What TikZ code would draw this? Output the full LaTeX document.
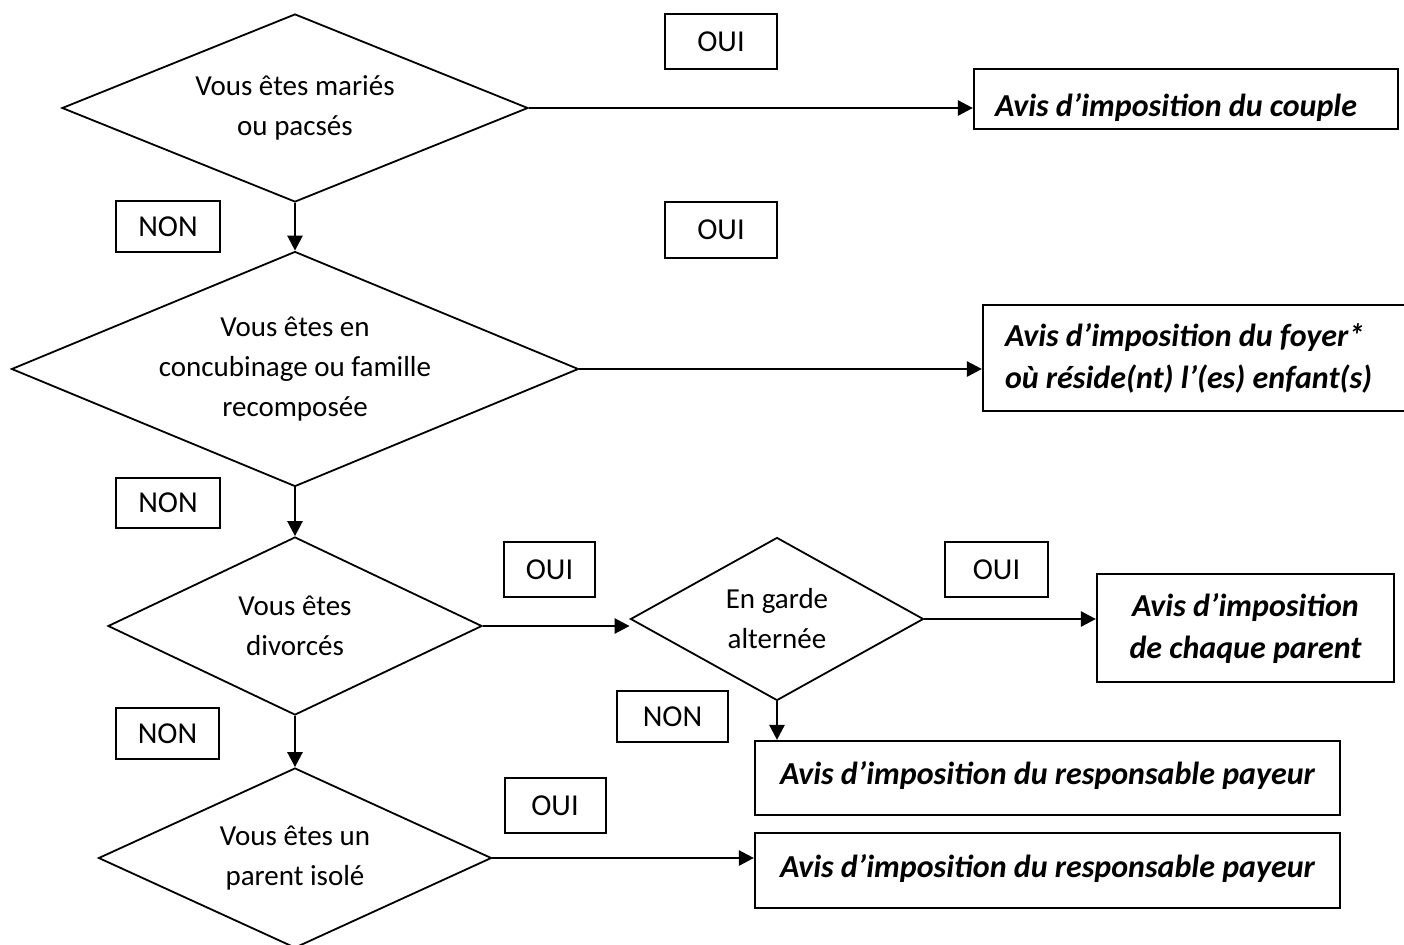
\documentclass[tikz,border=0pt]{standalone}
\usepackage{fontspec}
\setmainfont{Carlito}
\usetikzlibrary{arrows.meta,shapes.geometric}
\begin{document}
\begin{tikzpicture}[x=0.5pt,y=-0.5pt,
  every node/.style={font=\fontsize{14.5}{20}\selectfont},
  dia/.style={draw, line width=0.9pt, shape=diamond, inner sep=0pt, align=center},
  lbl/.style={draw, line width=1pt, inner sep=0pt, font=\fontsize{15.2}{20}\selectfont},
  res/.style={draw, line width=1.1pt, inner sep=0pt, align=center, font=\fontsize{16}{21}\selectfont\bfseries\itshape},
  arr/.style={line width=1.3pt, -{Triangle[length=7.5pt,width=7.5pt]}},
]
\useasboundingbox[fill=white] (0,0) rectangle (1404,944);

% decisions
\node[dia, shape aspect=2.48, minimum width=233pt, minimum height=94pt] (d1) at (295,108) {Vous êtes mariés\\ou pacsés};
\node[dia, shape aspect=2.41, minimum width=283.5pt, minimum height=117.5pt] (d2) at (295,369) {Vous êtes en\\concubinage ou famille\\recomposée};
\node[dia, shape aspect=2.1, minimum width=187pt, minimum height=89pt] (d3) at (295,626) {Vous êtes\\divorcés};
\node[dia, shape aspect=1.8, minimum width=146.5pt, minimum height=81.5pt] (d4) at (777,619) {En garde\\alternée};
\node[dia, shape aspect=2.18, minimum width=196.5pt, minimum height=90pt] (d5) at (295,858) {Vous êtes un\\parent isolé};

% OUI / NON labels
\node[lbl, minimum width=56pt, minimum height=27.5pt] (oui1) at (721,41.5) {OUI};
\node[lbl, minimum width=56pt, minimum height=28pt] (oui2) at (721,230) {OUI};
\node[lbl, minimum width=52pt, minimum height=25.5pt] (non1) at (168,226.5) {NON};
\node[lbl, minimum width=52pt, minimum height=25pt] (non2) at (168,503) {NON};
\node[lbl, minimum width=45.5pt, minimum height=27.5pt] (oui3) at (549.5,569.5) {OUI};
\node[lbl, minimum width=51.5pt, minimum height=27.5pt] (oui4) at (996.5,569.5) {OUI};
\node[lbl, minimum width=55.5pt, minimum height=25.5pt] (non4) at (672.5,716.5) {NON};
\node[lbl, minimum width=51.5pt, minimum height=25.5pt] (non3) at (167.5,733.5) {NON};
\node[lbl, minimum width=50.5pt, minimum height=27.5pt] (oui5) at (555,805.5) {OUI};

% results
\node[res, minimum width=212pt, minimum height=30pt, text width=191pt, align=flush left, text height=17pt, text depth=0pt] (couple) at (1186,99) {Avis d’imposition du couple};
\node[res, minimum width=218.5pt, minimum height=53pt, text width=196.5pt, align=flush left] (foyer) at (1201.5,358) {Avis d’imposition du foyer*\\où réside(nt) l’(es) enfant(s)};
\node[res, minimum width=148.5pt, minimum height=54pt] (chaque) at (1245.5,628) {Avis d’imposition\\de chaque parent};
\node[res, minimum width=292.5pt, minimum height=37pt, text height=11pt, text depth=4.5pt] (resp1) at (1047.5,778) {Avis d’imposition du responsable payeur};
\node[res, minimum width=292.5pt, minimum height=37.5pt, text height=11pt, text depth=4.5pt] (resp2) at (1047.5,870.5) {Avis d’imposition du responsable payeur};

% connectors
\draw[arr] (d1.south) -- (d2.north);
\draw[arr] (d2.south) -- (d3.north);
\draw[arr] (d3.south) -- (d5.north);
\draw[arr] (d1.east) -- (d1.east -| couple.west);
\draw[arr] (d2.east) -- (d2.east -| foyer.west);
\draw[arr] (d3.east) -- (d3.east -| d4.west);
\draw[arr] (d4.east) -- (d4.east -| chaque.west);
\draw[arr] (d4.south) -- (d4.south |- resp1.north);
\draw[arr] (d5.east) -- (d5.east -| resp2.west);
\end{tikzpicture}
\end{document}
